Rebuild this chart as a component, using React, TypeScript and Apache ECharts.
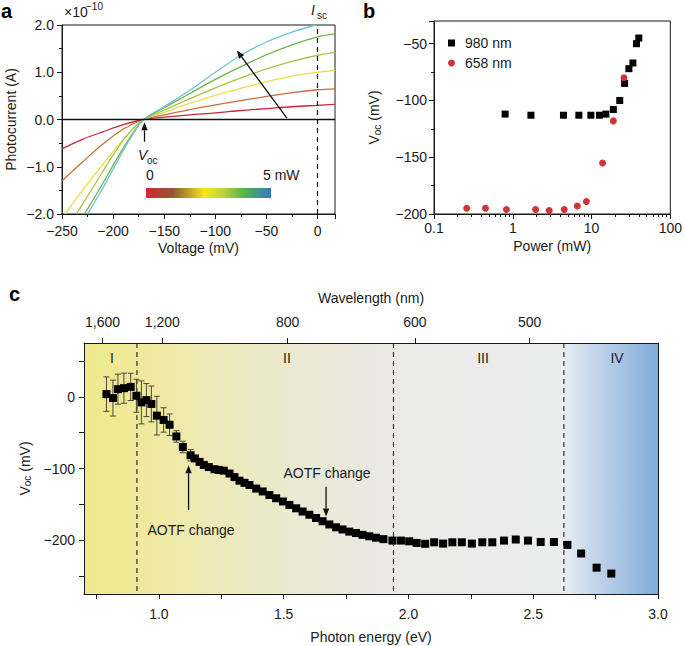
import React, { useEffect, useRef } from 'react';
import * as echarts from 'echarts';

const FONT = '"Liberation Sans", Arial, Helvetica, sans-serif';
const INK = '#1a1a1a';

// ---------- Panel a: photocurrent (x1e-10 A) vs voltage (mV), increasing power ----------
const ivRed = [[-250, -0.62], [-230, -0.42], [-210, -0.26], [-190, -0.11], [-170, 0], [-150, 0.05], [-125, 0.1], [-100, 0.14], [-75, 0.19], [-50, 0.23], [-25, 0.27], [0, 0.3], [17, 0.32]];
const ivOrange = [[-250, -1.3], [-230, -0.9], [-210, -0.52], [-190, -0.2], [-170, 0], [-150, 0.1], [-125, 0.21], [-100, 0.31], [-75, 0.4], [-50, 0.49], [-25, 0.57], [0, 0.63], [17, 0.65]];
const ivYellow = [[-247, -2], [-230, -1.5], [-210, -0.95], [-190, -0.42], [-170, 0], [-150, 0.15], [-125, 0.34], [-100, 0.51], [-75, 0.66], [-50, 0.8], [-25, 0.92], [0, 1.0], [17, 1.04]];
const ivOlive = [[-236, -2], [-220, -1.45], [-200, -0.75], [-185, -0.3], [-170, 0], [-150, 0.2], [-125, 0.44], [-100, 0.67], [-75, 0.88], [-50, 1.07], [-25, 1.23], [0, 1.36], [17, 1.42]];
const ivGreen = [[-228, -2], [-210, -1.35], [-195, -0.78], [-182, -0.33], [-170, 0], [-150, 0.25], [-125, 0.55], [-100, 0.85], [-75, 1.12], [-50, 1.37], [-25, 1.58], [0, 1.75], [17, 1.81]];
const ivCyan = [[-225, -2], [-210, -1.45], [-195, -0.85], [-182, -0.36], [-170, 0], [-150, 0.27], [-125, 0.62], [-100, 1.0], [-75, 1.36], [-50, 1.64], [-25, 1.85], [-2, 2.0]];
const ivCurves = [ivRed, ivOrange, ivYellow, ivOlive, ivGreen, ivCyan];
const ivColors = ['#c8283a', '#c8703a', '#e6df4a', '#a9c44a', '#74b04c', '#6cc2d6'];
const arrowsA = [[-30, 0.03, -79, 1.46], [-169.3, -0.47, -169.3, -0.06]];

// ---------- Panel b: Voc vs power ----------
const power980 = [0.8, 1.7, 4.4, 6.9, 9.8, 12.6, 15.2, 18.9, 22.8, 26.3, 29.8, 33.5, 37.2, 39.8];
const voc980 = [-112, -113, -113, -113, -113, -113, -112, -108, -100, -85, -72, -67, -50, -45];
const power658 = [0.26, 0.45, 0.83, 1.95, 2.9, 4.5, 6.6, 8.6, 13.8, 18.9, 25.8];
const voc658 = [-195, -195, -196, -196, -197, -196, -193, -189, -155, -118, -80];

// ---------- Panel c: Voc vs photon energy ----------
const energy = [0.79, 0.816, 0.836, 0.86, 0.887, 0.91, 0.93, 0.95, 0.97, 0.992, 1.019, 1.043, 1.07, 1.096, 1.127,
  1.145, 1.163, 1.18, 1.2, 1.223, 1.24, 1.26, 1.283, 1.303, 1.323, 1.343, 1.363, 1.39, 1.416, 1.443, 1.47, 1.497,
  1.523, 1.55, 1.576, 1.603, 1.63, 1.656, 1.683, 1.71, 1.736, 1.763, 1.79, 1.816, 1.843, 1.87, 1.9, 1.936, 1.97,
  2.003, 2.033, 2.067, 2.103, 2.139, 2.176, 2.214, 2.254, 2.296, 2.336, 2.383, 2.43, 2.479, 2.53, 2.583, 2.637,
  2.692, 2.754, 2.813];
const vocC = [3.7, -1.8, 10.6, 12, 13.8, 1.4, -7.8, -4.6, -10, -26.3, -32.3, -39, -55.3, -70, -81.6,
  -86, -90.8, -95, -98, -101, -102, -103, -107, -112, -117, -120, -123, -128, -132, -137, -141.5, -146,
  -150.8, -155.5, -160, -164.5, -169, -173.5, -178, -182, -185, -188, -190, -192.5, -194.5, -196.5, -198.5, -200.5, -200.5,
  -201.5, -203.8, -205, -202.9, -204.7, -202.9, -202.9, -204.7, -202.9, -202.9, -200.5, -199, -200.5, -202.5, -202.5, -206.5,
  -218.5, -238.3, -246.5];
const vocErr = [24, 25, 21, 21, 19, 23, 30, 23, 25, 27, 17, 15, 8, 8, 8];
const regionBounds = [0.912, 1.94, 2.623];
const regionNames = ['I', 'II', 'III', 'IV'];
const wavelengthLabels = ['1,600', '1,200', '800', '600', '500'];
const wavelengthPos = [0.774, 1.014, 1.516, 2.026, 2.486];
const arrowsC = [[1.119, -157.7, 1.119, -95.4], [1.67, -125.5, 1.67, -167]];

const C_MIN = -275;
const C_MAX = 75;
const E_MIN = 0.7;
const E_MAX = 3.0;

const minus = (s: string) => s.replace('-', '\u2212');

function arrowRender(params: any, api: any) {
  const p1 = api.coord([api.value(0), api.value(1)]);
  const p2 = api.coord([api.value(2), api.value(3)]);
  const dx = p2[0] - p1[0];
  const dy = p2[1] - p1[1];
  const len = Math.hypot(dx, dy) || 1;
  const ux = dx / len;
  const uy = dy / len;
  const head = 8;
  const w = 3.2;
  const bx = p2[0] - ux * head;
  const by = p2[1] - uy * head;
  return {
    type: 'group',
    children: [
      { type: 'line', shape: { x1: p1[0], y1: p1[1], x2: bx, y2: by }, style: { stroke: '#111', lineWidth: 1.3 } },
      { type: 'polygon', shape: { points: [[p2[0], p2[1]], [bx - uy * w, by + ux * w], [bx + uy * w, by - ux * w]] }, style: { fill: '#111' } },
    ],
  };
}

const bgGradients = [
  new echarts.graphic.LinearGradient(0, 0, 1, 0, [
    { offset: 0, color: '#efe98b' },
    { offset: 0.11, color: '#efe99a' },
    { offset: 0.25, color: '#eee9b4' },
    { offset: 0.45, color: '#ebe9d3' },
    { offset: 0.62, color: '#eae9e3' },
    { offset: 0.72, color: '#ebebea' },
    { offset: 1, color: '#ebecec' },
  ]),
  new echarts.graphic.LinearGradient(0, 0, 1, 0, [
    { offset: 0, color: '#e9edf1' },
    { offset: 0.3, color: '#c6d7ea' },
    { offset: 0.7, color: '#9ebee1' },
    { offset: 1, color: '#7eaadb' },
  ]),
];

export default function App() {
  const ref = useRef<HTMLDivElement>(null);
  useEffect(() => {
    document.body.style.margin = '0';
    if (!ref.current) return;
    const chart = echarts.init(ref.current, undefined, { renderer: 'svg' });

    const axisBase = {
      axisLine: { onZero: false, lineStyle: { color: INK, width: 1 } },
      axisTick: { length: 5, lineStyle: { color: INK } },
      splitLine: { show: false },
      axisLabel: { color: INK, fontSize: 14, fontFamily: FONT },
      nameTextStyle: { color: INK, fontSize: 14, fontFamily: FONT },
    };

    const lineSeries = ivCurves.map((c, i) => ({
      type: 'line',
      xAxisIndex: 0,
      yAxisIndex: 0,
      data: c,
      smooth: 0.35,
      showSymbol: false,
      lineStyle: { color: ivColors[i], width: 1.3 },
      z: 3,
      markLine: i === 0 ? {
        silent: true,
        symbol: 'none',
        label: { show: false },
        data: [
          { yAxis: 0, lineStyle: { color: '#111', width: 1.3, type: 'solid' } },
          { xAxis: 0, lineStyle: { color: '#111', width: 1.2, type: [5, 4] } },
        ],
      } : undefined,
    }));

    const subRich = { v: { fontSize: 14, fontFamily: FONT, color: INK }, s: { fontSize: 10, fontFamily: FONT, color: INK, padding: [6, 0, 0, 0] } };
    const regionTextX = [112, 287, 483, 617];

    const option: any = {
      animation: false,
      textStyle: { fontFamily: FONT, color: INK },
      grid: [
        { left: 62, top: 25, width: 273, height: 189, show: true, borderColor: INK, borderWidth: 1, backgroundColor: 'transparent' },
        { left: 434, top: 21, width: 239, height: 193, show: true, borderColor: INK, borderWidth: 1, backgroundColor: 'transparent' },
        { left: 84, top: 343, width: 574, height: 251 },
      ],
      legend: {
        left: 443,
        top: 31,
        orient: 'vertical',
        itemWidth: 7,
        itemHeight: 7,
        itemGap: 6,
        textStyle: { fontSize: 14, color: INK, fontFamily: FONT, padding: [0, 0, 0, 5] },
        data: [{ name: '980 nm', icon: 'rect' }, { name: '658 nm', icon: 'circle' }],
      },
      xAxis: [
        {
          ...axisBase, gridIndex: 0, type: 'value', min: -250, max: 17, interval: 50,
          minorTick: { show: true, splitNumber: 2, length: 3, lineStyle: { color: INK } },
          axisLabel: { ...axisBase.axisLabel, margin: 10, formatter: (v: number) => (v % 50 === 0 ? minus(String(v)) : '') },
          name: 'Voltage (mV)', nameLocation: 'middle', nameGap: 27,
        },
        {
          ...axisBase, gridIndex: 1, type: 'log', logBase: 10, min: 0.1, max: 100, position: 'bottom',
          axisLabel: { ...axisBase.axisLabel, margin: 7, formatter: (v: number) => String(v) },
          name: 'Power (mW)', nameLocation: 'middle', nameGap: 25,
        },
        {
          gridIndex: 1, type: 'log', logBase: 10, min: 0.1, max: 100, position: 'bottom',
          axisLine: { show: false }, splitLine: { show: false },
          axisLabel: { show: false },
          axisTick: { show: true, length: 3, lineStyle: { color: INK }, customValues: [0.2, 0.3, 0.4, 0.5, 0.6, 0.7, 0.8, 0.9, 2, 3, 4, 5, 6, 7, 8, 9, 20, 30, 40, 50, 60, 70, 80, 90] },
        },
        {
          ...axisBase, gridIndex: 2, type: 'value', min: E_MIN, max: E_MAX, position: 'bottom', z: 10,
          axisTick: { ...axisBase.axisTick, customValues: [0.75, 1, 1.25, 1.5, 1.75, 2, 2.25, 2.5, 2.75, 3] },
          axisLabel: { ...axisBase.axisLabel, margin: 13, customValues: [1, 1.5, 2, 2.5, 3], formatter: (v: number) => (Math.abs(v * 2 - Math.round(v * 2)) < 1e-6 && v >= 1 ? v.toFixed(1) : '') },
          name: 'Photon energy (eV)', nameLocation: 'middle', nameGap: 36,
        },
        {
          ...axisBase, gridIndex: 2, type: 'value', min: E_MIN, max: E_MAX, position: 'top', z: 10,
          axisTick: { ...axisBase.axisTick, customValues: wavelengthPos },
          axisLabel: {
            ...axisBase.axisLabel, margin: 14, customValues: wavelengthPos,
            formatter: (v: number) => {
              const i = wavelengthPos.findIndex((p) => Math.abs(p - v) < 1e-6);
              return i >= 0 ? wavelengthLabels[i] : '';
            },
          },
          name: 'Wavelength (nm)', nameLocation: 'middle', nameGap: 38,
        },
      ],
      yAxis: [
        {
          ...axisBase, gridIndex: 0, type: 'value', min: -2, max: 2, interval: 1,
          minorTick: { show: true, splitNumber: 2, length: 3, lineStyle: { color: INK } },
          axisLabel: { ...axisBase.axisLabel, margin: 8, formatter: (v: number) => minus(v.toFixed(1)) },
          name: 'Photocurrent (A)', nameLocation: 'middle', nameGap: 44,
        },
        {
          ...axisBase, gridIndex: 1, type: 'value', min: -200, max: -30, interval: 50,
          minorTick: { show: true, splitNumber: 2, length: 3, lineStyle: { color: INK } },
          axisLabel: { ...axisBase.axisLabel, margin: 7, formatter: (v: number) => (v % 50 === 0 ? minus(String(v)) : '') },
          name: '{v|V}{s|oc} (mV)', nameLocation: 'middle', nameGap: 52,
          nameTextStyle: { ...axisBase.nameTextStyle, rich: subRich },
        },
        {
          ...axisBase, gridIndex: 2, type: 'value', min: C_MIN, max: C_MAX, z: 10,
          axisTick: { ...axisBase.axisTick, customValues: [-250, -200, -150, -100, -50, 0, 50] },
          axisLabel: { ...axisBase.axisLabel, margin: 9, customValues: [-200, -100, 0], formatter: (v: number) => (v % 100 === 0 ? minus(String(v)) : '') },
          name: '{v|V}{s|oc} (mV)', nameLocation: 'middle', nameGap: 47,
          nameTextStyle: { ...axisBase.nameTextStyle, rich: subRich },
        },
        {
          gridIndex: 2, type: 'value', min: C_MIN, max: C_MAX, position: 'right', z: 10,
          axisLine: { show: true, onZero: false, lineStyle: { color: INK } },
          axisTick: { show: false }, axisLabel: { show: false }, splitLine: { show: false },
        },
      ],
      series: [
        ...lineSeries,
        {
          type: 'custom', xAxisIndex: 0, yAxisIndex: 0, z: 6, clip: false,
          encode: { x: [0, 2], y: [1, 3] },
          itemStyle: { color: '#111' },
          data: arrowsA, renderItem: arrowRender,
        },
        {
          name: '980 nm', type: 'scatter', xAxisIndex: 1, yAxisIndex: 1,
          symbol: 'rect', symbolSize: 7, itemStyle: { color: '#000', opacity: 1 },
          data: power980.map((p, i) => [p, voc980[i]]), z: 5,
        },
        {
          name: '658 nm', type: 'scatter', xAxisIndex: 1, yAxisIndex: 1,
          symbol: 'circle', symbolSize: 7, itemStyle: { color: '#cf3535', opacity: 1 },
          data: power658.map((p, i) => [p, voc658[i]]), z: 5,
        },
        {
          type: 'custom', xAxisIndex: 3, yAxisIndex: 2, z: 1, silent: true,
          encode: { x: [0, 1] },
          data: [[E_MIN, regionBounds[2], 0], [regionBounds[2], E_MAX, 1]],
          renderItem: (params: any, api: any) => {
            const p0 = api.coord([api.value(0), C_MAX]);
            const p1 = api.coord([api.value(1), C_MIN]);
            return {
              type: 'rect',
              shape: { x: p0[0], y: p0[1], width: p1[0] - p0[0], height: p1[1] - p0[1] },
              style: { fill: bgGradients[api.value(2)] },
            };
          },
        },
        {
          type: 'custom', xAxisIndex: 3, yAxisIndex: 2, z: 2, silent: true,
          encode: { x: 0 },
          itemStyle: { color: '#222' },
          data: regionBounds.map((b) => [b]),
          renderItem: (params: any, api: any) => {
            const p0 = api.coord([api.value(0), C_MAX]);
            const p1 = api.coord([api.value(0), C_MIN]);
            return { type: 'line', shape: { x1: p0[0], y1: p0[1], x2: p1[0], y2: p1[1] }, style: { stroke: '#222', lineWidth: 1.1, lineDash: [5, 4] } };
          },
        },
        {
          type: 'custom', xAxisIndex: 3, yAxisIndex: 2, z: 4, silent: true,
          encode: { x: 0, y: [1, 2] },
          itemStyle: { color: '#4a4a38' },
          data: vocErr.map((e, i) => [energy[i], vocC[i] - e, vocC[i] + e]),
          renderItem: (params: any, api: any) => {
            const lo = api.coord([api.value(0), api.value(1)]);
            const hi = api.coord([api.value(0), api.value(2)]);
            const st = { stroke: '#4a4a38', lineWidth: 1 };
            return {
              type: 'group',
              children: [
                { type: 'line', shape: { x1: lo[0], y1: lo[1], x2: hi[0], y2: hi[1] }, style: st },
                { type: 'line', shape: { x1: lo[0] - 3, y1: lo[1], x2: lo[0] + 3, y2: lo[1] }, style: st },
                { type: 'line', shape: { x1: hi[0] - 3, y1: hi[1], x2: hi[0] + 3, y2: hi[1] }, style: st },
              ],
            };
          },
        },
        {
          type: 'scatter', xAxisIndex: 3, yAxisIndex: 2, z: 5,
          symbol: 'rect', symbolSize: 8, itemStyle: { color: '#000', opacity: 1 },
          data: energy.map((e, i) => [e, vocC[i]]),
        },
        {
          type: 'custom', xAxisIndex: 3, yAxisIndex: 2, z: 6, clip: false,
          encode: { x: [0, 2], y: [1, 3] },
          itemStyle: { color: '#111' },
          data: arrowsC, renderItem: arrowRender,
        },
      ],
      graphic: [
        { type: 'text', left: 1, top: 1, style: { text: 'a', fontSize: 20, fontWeight: 'bold', fontFamily: FONT, fill: '#000' } },
        { type: 'text', left: 363, top: 1, style: { text: 'b', fontSize: 20, fontWeight: 'bold', fontFamily: FONT, fill: '#000' } },
        { type: 'text', left: 9, top: 284, style: { text: 'c', fontSize: 20, fontWeight: 'bold', fontFamily: FONT, fill: '#000' } },
        { type: 'text', left: 64, top: 5, style: { text: '\u00d710', fontSize: 14, fontFamily: FONT, fill: INK } },
        { type: 'text', left: 86, top: 1, style: { text: '\u221210', fontSize: 10, fontFamily: FONT, fill: INK } },
        { type: 'text', left: 311, top: 3, style: { text: 'I', fontSize: 14, fontStyle: 'italic', fontFamily: FONT, fill: INK } },
        { type: 'text', left: 317, top: 10, style: { text: 'sc', fontSize: 10, fontFamily: FONT, fill: INK } },
        { type: 'text', left: 138, top: 148, style: { text: 'V', fontSize: 14, fontStyle: 'italic', fontFamily: FONT, fill: INK } },
        { type: 'text', left: 147, top: 155, style: { text: 'oc', fontSize: 10, fontFamily: FONT, fill: INK } },
        {
          type: 'rect', shape: { x: 146, y: 188, width: 125, height: 10 },
          style: {
            fill: new echarts.graphic.LinearGradient(0, 0, 1, 0, [
              { offset: 0, color: '#d8262f' },
              { offset: 0.22, color: '#8c5a34' },
              { offset: 0.47, color: '#f5ea1e' },
              { offset: 0.62, color: '#b9d23a' },
              { offset: 0.8, color: '#52ae52' },
              { offset: 1, color: '#3b78bf' },
            ]),
          },
        },
        { type: 'text', left: 146, top: 168, style: { text: '0', fontSize: 14, fontFamily: FONT, fill: INK } },
        { type: 'text', left: 263, top: 168, style: { text: '5 mW', fontSize: 14, fontFamily: FONT, fill: INK } },
        ...regionNames.map((n, i) => ({
          type: 'text', x: regionTextX[i], y: 358, z: 20,
          style: { text: n, fontSize: 14, fontFamily: FONT, fill: '#222', align: 'center', verticalAlign: 'middle' },
        })),
        { type: 'text', x: 191, y: 530, style: { text: 'AOTF change', fontSize: 14, fontFamily: FONT, fill: INK, align: 'center', verticalAlign: 'middle' }, z: 20 },
        { type: 'text', x: 327, y: 473, style: { text: 'AOTF change', fontSize: 14, fontFamily: FONT, fill: INK, align: 'center', verticalAlign: 'middle' }, z: 20 },
      ],
    };
    chart.setOption(option);
    return () => chart.dispose();
  }, []);
  return <div ref={ref} style={{ width: 685, height: 646 }} />;
}
